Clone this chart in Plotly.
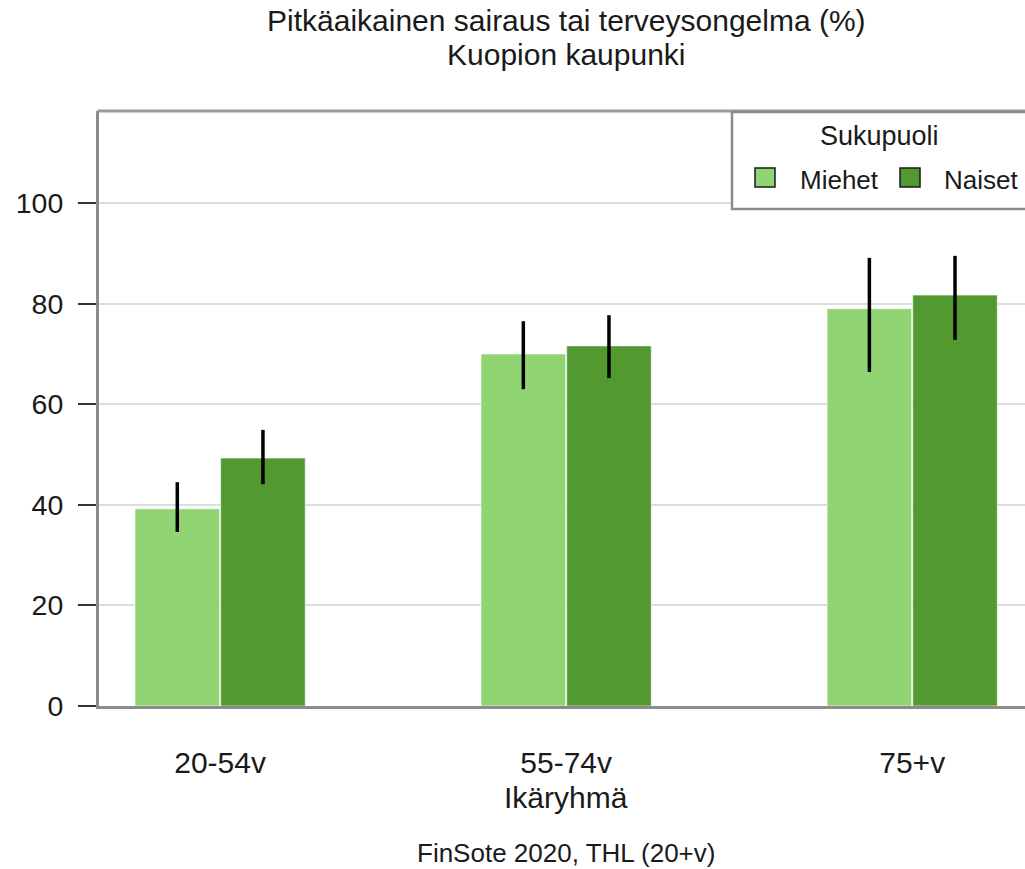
import plotly.graph_objects as go

categories = ["20-54v", "55-74v", "75+v"]
series_names = ["Miehet", "Naiset"]
miehet = [39.2, 70.0, 79.0]
miehet_low = [34.6, 63.0, 66.4]
miehet_high = [44.5, 76.5, 89.1]
naiset = [49.3, 71.6, 81.7]
naiset_low = [44.1, 65.2, 72.8]
naiset_high = [54.9, 77.7, 89.5]
y_ticks = [0, 20, 40, 60, 80, 100]

colors = {"Miehet": "#90d474", "Naiset": "#529a30"}
FONT = "Liberation Sans, Arial, sans-serif"
TXT = "#1a1a1a"

# plot area in pixels
PL, PR, PT, PB = 99, 1025, 111, 706


def px(x):
    return (x - PL) / (PR - PL)


def py(y):
    return (PB - y) / (PB - PT)


fig = go.Figure()
for name, vals, lo, hi in [("Miehet", miehet, miehet_low, miehet_high),
                           ("Naiset", naiset, naiset_low, naiset_high)]:
    fig.add_trace(go.Bar(
        x=categories, y=vals, name=name, showlegend=False,
        marker=dict(color=colors[name], line=dict(color="rgba(255,255,255,0.6)", width=1)),
        error_y=dict(type="data", symmetric=False,
                     array=[h - v for h, v in zip(hi, vals)],
                     arrayminus=[v - l for v, l in zip(vals, lo)],
                     color="black", thickness=3.5, width=0),
    ))

fig.update_layout(
    width=1025, height=869,
    paper_bgcolor="white", plot_bgcolor="white",
    barmode="group", bargap=0.505, bargroupgap=0.012,
    margin=dict(l=PL, r=1025 - PR, t=PT, b=869 - PB, autoexpand=False),
    font=dict(family=FONT, color=TXT, size=29),
    xaxis=dict(range=[-0.35, 2.326], showline=True, linecolor="#8c8c8c", linewidth=3,
               mirror=False, ticks="", showgrid=False, tickfont=dict(size=30),
               ticklabelstandoff=28),
    yaxis=dict(range=[0, 118.3], tickvals=y_ticks, showline=True, linecolor="#8c8c8c",
               linewidth=3, mirror=False, ticks="outside", ticklen=18, tickwidth=2,
               tickcolor="#333333", showgrid=True, gridcolor="#dcdcdc", gridwidth=1.5,
               zeroline=False, tickfont=dict(size=28.5), ticklabelstandoff=9),
    showlegend=False,
)

# top frame line of the panel (continues past the right edge)
fig.add_shape(type="line", xref="paper", yref="paper", x0=px(PL - 1.5), x1=px(1040),
              y0=1, y1=1, line=dict(color="#9a9a9a", width=3), layer="above")

# titles
fig.add_annotation(text="Pitkäaikainen sairaus tai terveysongelma (%)", xref="x", x=1,
                   xanchor="center", yref="paper", y=py(20), yanchor="middle",
                   showarrow=False, font=dict(size=30, family=FONT, color=TXT))
fig.add_annotation(text="Kuopion kaupunki", xref="x", x=1, xanchor="center",
                   yref="paper", y=py(55), yanchor="middle", showarrow=False,
                   font=dict(size=30, family=FONT, color=TXT))
fig.add_annotation(text="Ikäryhmä", xref="x", x=1, xanchor="center", yref="paper",
                   y=py(798), yanchor="middle", showarrow=False,
                   font=dict(size=30, family=FONT, color=TXT))
fig.add_annotation(text="FinSote 2020, THL (20+v)", xref="x", x=1, xanchor="center",
                   yref="paper", y=py(853), yanchor="middle", showarrow=False,
                   font=dict(size=26, family=FONT, color=TXT))

# legend (drawn as a key box)
fig.add_shape(type="rect", xref="paper", yref="paper", x0=px(732), x1=px(1060),
              y0=py(209), y1=py(112), line=dict(color="#8c8c8c", width=2.5),
              fillcolor="white", layer="above")
fig.add_annotation(text="Sukupuoli", xref="paper", x=px(879), xanchor="center",
                   yref="paper", y=py(136), yanchor="middle", showarrow=False,
                   font=dict(size=27, family=FONT, color=TXT))
for name, sx0, tx in [("Miehet", 755, 798), ("Naiset", 900, 942)]:
    fig.add_shape(type="rect", xref="paper", yref="paper", x0=px(sx0), x1=px(sx0 + 20),
                  y0=py(187), y1=py(168), line=dict(color="#1a1a1a", width=1.5),
                  fillcolor=colors[name], layer="above")
    fig.add_annotation(text=name, xref="paper", x=px(tx), xanchor="left", yref="paper",
                       y=py(180), yanchor="middle", showarrow=False,
                       font=dict(size=26, family=FONT, color=TXT))

fig.write_html("out.html", config={"displayModeBar": False},
               post_script="document.body.style.margin='0px';")
